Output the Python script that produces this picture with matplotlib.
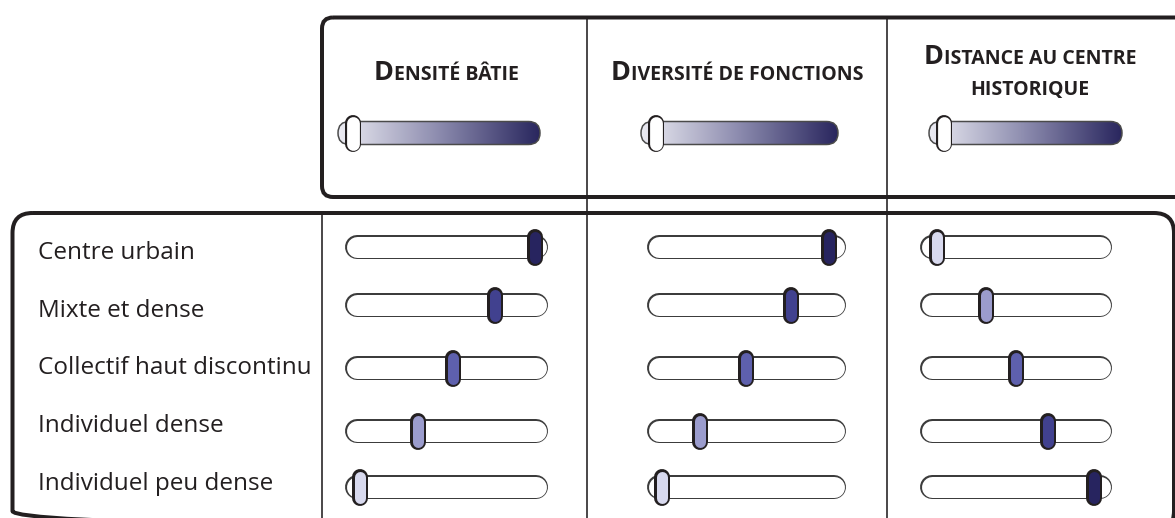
import matplotlib
matplotlib.use("Agg")
import matplotlib.pyplot as plt
import numpy as np
from matplotlib.colors import BoundaryNorm, LinearSegmentedColormap, ListedColormap
from matplotlib.patches import FancyBboxPatch

W, H = 1175, 518
PX = 72 / 100  # points per pixel at dpi=100
INK = "#231f20"

criteria = ["Densité bâtie", "Diversité de fonctions", "Distance au centre\nhistorique"]
categories = [
    "Centre urbain",
    "Mixte et dense",
    "Collectif haut discontinu",
    "Individuel dense",
    "Individuel peu dense",
]
densite = [1.0, 0.77, 0.53, 0.33, 0.0]
diversite = [1.0, 0.77, 0.50, 0.23, 0.0]
distance = [0.0, 0.31, 0.50, 0.71, 1.0]
series = [densite, diversite, distance]

knob_colors = ["#d8d9ee", "#9b9ccd", "#5e60ad", "#41418f", "#27245f"]
knob_cmap = ListedColormap(knob_colors)
knob_norm = BoundaryNorm([-0.1, 0.15, 0.42, 0.62, 0.88, 1.1], knob_cmap.N)
grad_cmap = LinearSegmentedColormap.from_list("grad", ["#ececf3", "#8c8bae", "#29265e"])

# layout (pixels)
slider_spans = [(360, 535), (662, 829), (937, 1094)]
track_pads = [(-0.02, 1.005), (-0.015, 1.03), (-0.03, 1.04)]
header_tracks = [(338, 540), (641, 838), (929, 1122)]
title_centers = [446, 737, 1030]
row_y = [247, 305, 368, 431, 487]
label_y = [259 + 57.7 * i for i in range(len(categories))]

FONT = ["Open Sans", "DejaVu Sans"]

fig = plt.figure(figsize=(W / 100, H / 100), dpi=100)
ax = fig.add_axes([0, 0, 1, 1])
ax.set_xlim(0, W)
ax.set_ylim(H, 0)
ax.axis("off")


def knob(a, x, y, face, edge_w=2.5):
    a.plot([x, x], [y - 10.5, y + 10.5], color=INK, lw=16 * PX, solid_capstyle="round", zorder=5, clip_on=False)
    a.plot([x, x], [y - 10.5, y + 10.5], color=face, lw=(16 - 2 * edge_w) * PX,
           solid_capstyle="round", zorder=6, clip_on=False)


# frames
ax.add_patch(FancyBboxPatch((322, 17.5), 880, 179.5, boxstyle="round,pad=0,rounding_size=11",
                            fc="none", ec=INK, lw=4 * PX))
ax.add_patch(FancyBboxPatch((12.5, 213), 1161.5, 318, boxstyle="round,pad=0,rounding_size=20",
                            fc="none", ec=INK, lw=4 * PX))
for x in (587, 887):
    ax.plot([x, x], [17.5, H], color=INK, lw=1.6 * PX)
ax.plot([322, 322], [213, H], color=INK, lw=1.6 * PX)

# header gradient sliders
for (x0, x1) in header_tracks:
    yc = 133
    track = FancyBboxPatch((x0, yc - 11.5), x1 - x0, 23, boxstyle="round,pad=0,rounding_size=11.5",
                           fc="none", ec="#4a4a4a", lw=1.5 * PX, zorder=3)
    ax.add_patch(track)
    im = ax.imshow(np.linspace(0, 1, 256)[None, :], extent=[x0, x1, yc + 11.5, yc - 11.5],
                   cmap=grad_cmap, aspect="auto", zorder=2)
    im.set_clip_path(track)
    knob(ax, x0 + 15, yc, "white", edge_w=1.6)

ax.set_xlim(0, W)
ax.set_ylim(H, 0)

# titles in small caps
renderer = fig.canvas.get_renderer()
for title, cx in zip(criteria, title_centers):
    lines = title.split("\n")
    base = 80 if len(lines) == 1 else 64
    for li, line in enumerate(lines):
        if li == 0:
            segs = [(line[0].upper(), 19.5), (line[1:].upper(), 14)]
        else:
            segs = [(line.upper(), 14)]
        texts = [ax.text(0, base + li * 31, s, fontsize=fs, family=FONT, weight="bold",
                         color=INK, va="baseline", ha="left") for s, fs in segs]
        widths = [t.get_window_extent(renderer).width for t in texts]
        x = cx - sum(widths) / 2
        for t, w in zip(texts, widths):
            t.set_x(x)
            x += w

# category labels
for cat, y in zip(categories, label_y):
    ax.text(38, y, cat, fontsize=17.5, family=FONT, color=INK, va="baseline", ha="left")

# row sliders, one axes per criterion
for vals, (k0, k1), (p0, p1) in zip(series, slider_spans, track_pads):
    sax = fig.add_axes([k0 / W, 0, (k1 - k0) / W, 1])
    sax.set_xlim(0, 1)
    sax.set_ylim(H, 0)
    sax.axis("off")
    for v, y in zip(vals, row_y):
        sax.plot([p0, p1], [y, y], color="#3c3c3c", lw=24 * PX, solid_capstyle="round", clip_on=False)
        sax.plot([p0, p1], [y, y], color="white", lw=21 * PX, solid_capstyle="round", clip_on=False)
        knob(sax, v, y, knob_cmap(knob_norm(v)))

fig.savefig("out.png", dpi=100)
